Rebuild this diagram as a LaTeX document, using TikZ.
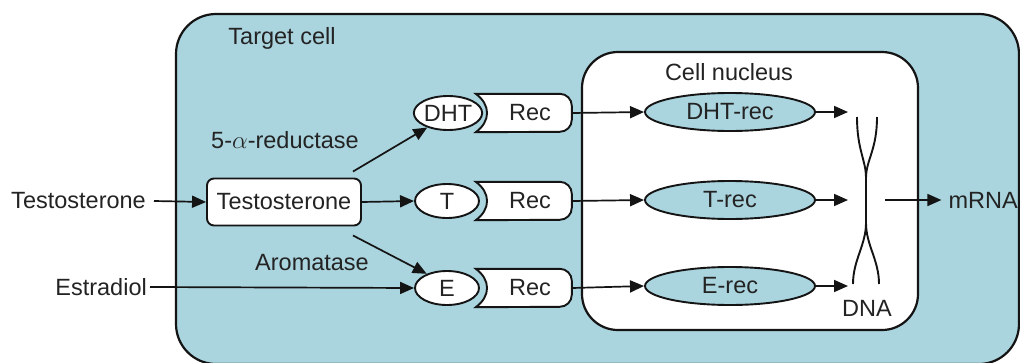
\documentclass[tikz,border=0pt]{standalone}
\usepackage{fontspec}
\setmainfont{Liberation Sans}
\usetikzlibrary{shapes.geometric,arrows.meta,calc}
\definecolor{cellblue}{RGB}{170,212,222}
\definecolor{txt}{RGB}{35,35,35}
\definecolor{ln}{RGB}{20,20,20}
\tikzset{
  lbl/.style={text=txt,font=\fontsize{23.5}{27}\selectfont,inner sep=0pt},
  hormone/.style={ellipse,draw=ln,line width=1.9pt,fill=white,minimum width=64pt,minimum height=34pt,inner sep=0pt,text=txt,font=\fontsize{23.5}{27}\selectfont},
  recsp/.style={minimum width=96pt,minimum height=38pt,inner sep=0pt,text=txt,font=\fontsize{23.5}{27}\selectfont},
  nucrec/.style={ellipse,draw=ln,line width=1.9pt,fill=cellblue,minimum width=170pt,minimum height=38pt,inner sep=0pt,text=txt,font=\fontsize{23.5}{27}\selectfont},
  arr/.style={draw=ln,line width=1.7pt,-{Triangle[length=14pt,width=12pt]}},
  strand/.style={draw=ln,line width=1.9pt}
}
\begin{document}
\begin{tikzpicture}[x=1pt,y=-1pt]
\useasboundingbox (0,0) rectangle (1020,362);
% outer cell
\draw[draw=ln,line width=2.2pt,fill=cellblue,rounded corners=40pt] (176,14) rectangle (1019,364);
\node[lbl] (tc) at (282,38) {Target cell};
% nucleus
\draw[draw=ln,line width=2.2pt,fill=white,rounded corners=36pt] (582,52) rectangle (918,330);
\node[lbl] (cn) at (729,72) {Cell nucleus};

% left labels
\node[lbl,anchor=east] (tin) at (146,201) {Testosterone};
\node[lbl,anchor=east] (est) at (147,287) {Estradiol};
\node[lbl,draw=ln,line width=1.9pt,fill=white,rounded corners=7pt,minimum width=154pt,minimum height=47pt] (tbox) at (284,202) {Testosterone};
\node[lbl] (red) at (285,140) {5-$\alpha$-reductase};
\node[lbl] (aro) at (312,263) {Aromatase};

% hormones
\node[hormone] (dht) at (448,113) {DHT};
\node[hormone] (t) at (447,201) {T};
\node[hormone] (e) at (447,288) {E};

% receptors
\foreach \n/\yy in {r1/113,r2/201,r3/288}{
  \node[recsp] (\n) at (524,\yy) {};
  \draw[draw=ln,line width=1.9pt,fill=white]
    (\n.south west) .. controls +(15,-11) and +(15,11) .. (\n.north west)
    -- ++(84,0) arc[start angle=90,end angle=0,radius=12pt]
    -- ++(0,14) arc[start angle=0,end angle=-90,radius=12pt] -- cycle;
  \node[recsp] at (\n) {\hspace*{12pt}Rec};
}

% nucleus receptors
\node[nucrec] (dr) at (730,112) {DHT-rec};
\node[nucrec] (tr) at (730,200) {T-rec};
\node[nucrec] (er) at (730,286) {E-rec};

% DNA
\draw[strand] (857,117) .. controls (857,150) and (866,160) .. (866,178) -- (866,223) .. controls (866,245) and (853,260) .. (853,284);
\draw[strand] (877,117) .. controls (877,150) and (866,160) .. (866,178);
\draw[strand] (866,223) .. controls (866,245) and (879,260) .. (879,284);
\node[lbl] (dna) at (867,308) {DNA};
\coordinate (d1) at (848,112);
\coordinate (d2) at (848,200);
\coordinate (d3) at (848,286);
\coordinate (dout) at (885,200);
\node[lbl,anchor=east] (mrna) at (1018,200) {mRNA};

% connectors
\draw[arr] (tin.east) ++(8,0) -- (tbox.west);
\draw[arr] (est.east) ++(3,0) -- (e.west);
\draw[arr] ([xshift=-9pt,yshift=6pt]tbox.north east) -- (dht.215);
\draw[arr] (tbox.east) -- (t.west);
\draw[arr] ([xshift=-9pt,yshift=-9pt]tbox.south east) -- (e.145);
\draw[arr] (r1.east) -- (dr.west);
\draw[arr] (r2.east) -- (tr.west);
\draw[arr] (r3.east) -- (er.west);
\draw[arr] (dr.east) -- (d1);
\draw[arr] (tr.east) -- (d2);
\draw[arr] (er.east) -- (d3);
\draw[arr] (dout) -- ([xshift=-7pt]mrna.west);
\end{tikzpicture}
\end{document}
